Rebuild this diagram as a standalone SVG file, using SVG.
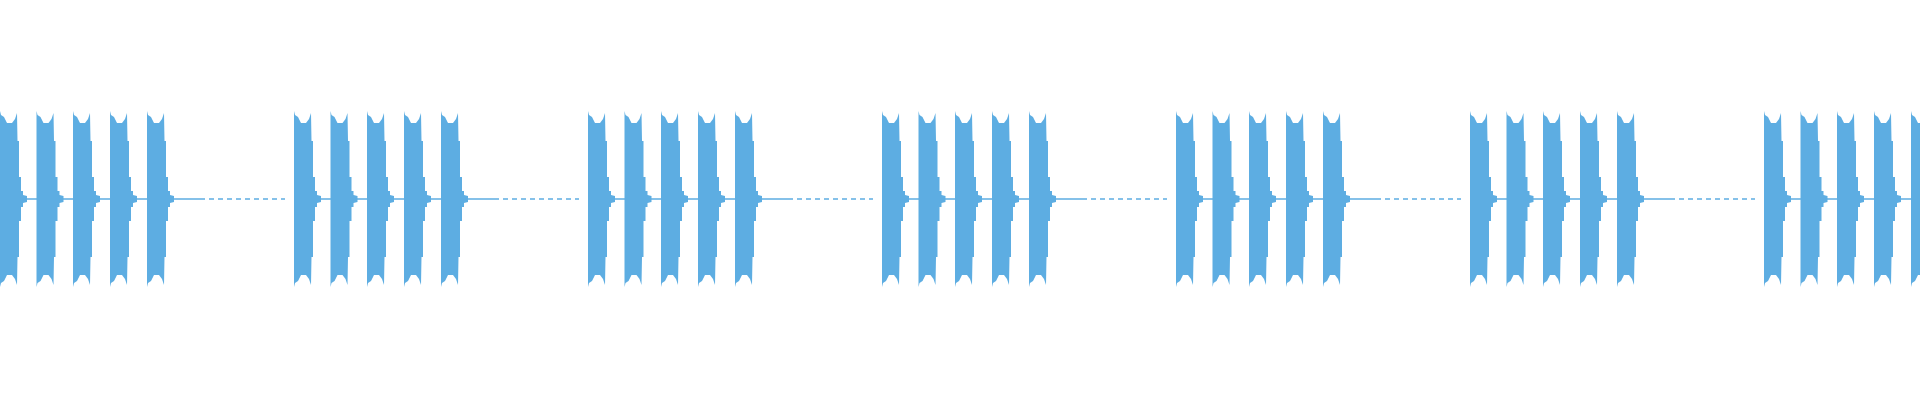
<svg xmlns="http://www.w3.org/2000/svg" xmlns:xlink="http://www.w3.org/1999/xlink" width="1920" height="400" viewBox="0 0 1920 400">
<style>.w{fill:#5dade2}.l{stroke:#5dade2;stroke-width:1.3}</style>
<defs>
<path id="b" class="w" d="M0,-88 L1,-84 L4,-82 L7,-76 L12,-76 L15,-80 L17,-86 L17.5,-58 L19,-58 L19,-22 L21,-22 L21,-8 L23,-8 L23,-4 L27,-3 L27,3 L23,4 L23,8 L21,8 L21,22 L19,22 L19,58 L17.5,58 L17,86 L15,80 L12,76 L7,76 L4,82 L1,84 L0,88 Z"/>
<g id="g">
<line class="l" x1="0" y1="0" x2="200" y2="0"/>
<line class="l" x1="200" y1="0" x2="285" y2="0" stroke-dasharray="5 4"/>
<use xlink:href="#b" x="0"/><use xlink:href="#b" x="36.5"/><use xlink:href="#b" x="73"/><use xlink:href="#b" x="110"/><use xlink:href="#b" x="147"/>
</g>
</defs>
<rect width="1920" height="400" fill="#fff"/>
<g transform="translate(0,199)">
<use xlink:href="#g" x="0"/><use xlink:href="#g" x="294"/><use xlink:href="#g" x="588"/><use xlink:href="#g" x="882"/><use xlink:href="#g" x="1176"/><use xlink:href="#g" x="1470"/><use xlink:href="#g" x="1764"/>
</g>
</svg>
